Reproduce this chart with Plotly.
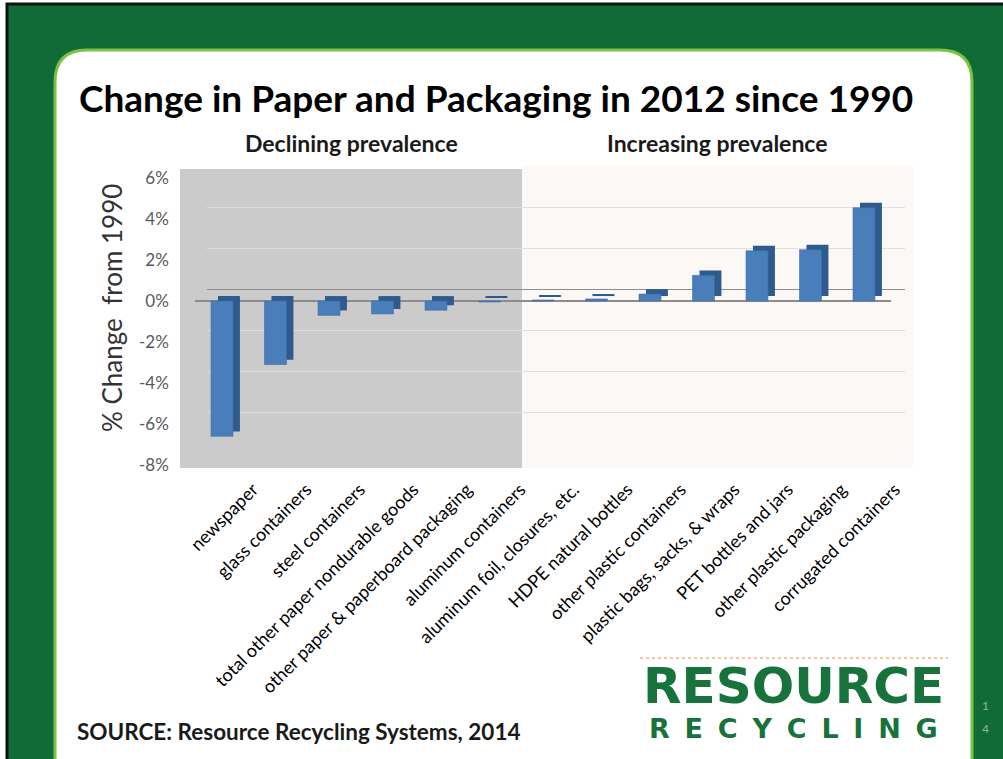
import plotly.graph_objects as go

# ---------------- data ----------------
categories = [
    "newspaper", "glass containers", "steel containers",
    "total other paper nondurable goods", "other paper & paperboard packaging",
    "aluminum containers", "aluminum foil, closures, etc.", "HDPE natural bottles",
    "other plastic containers", "plastic bags, sacks, & wraps", "PET bottles and jars",
    "other plastic packaging", "corrugated containers",
]
pct_change = [-6.6, -3.1, -0.7, -0.63, -0.45, -0.05, 0.05, 0.1, 0.34, 1.25, 2.45, 2.5, 4.55]
y_tick_values = [-8, -6, -4, -2, 0, 2, 4, 6]
y_tick_labels = ["-8%", "-6%", "-4%", "-2%", "0%", "2%", "4%", "6%"]

W, H = 1003, 759
def px(x):
    return x / W
def py(y):
    return 1 - y / H

FONT = "Lato"
n = len(categories)
idx = list(range(n))

# pseudo-3D depth (style constants)
depth_x = 0.13   # category units
depth_y = 0.24   # value units
bar_w = 0.41

fig = go.Figure()

# subplot xy: back wall gridlines (drawn first)
fig.add_trace(go.Scatter(x=idx, y=pct_change, mode="markers", marker=dict(opacity=0),
                         hoverinfo="skip", showlegend=False, xaxis="x", yaxis="y"))
# subplot x2y3: category labels (shifted like the 3D floor)
fig.add_trace(go.Scatter(x=idx, y=pct_change, mode="markers", marker=dict(opacity=0),
                         hoverinfo="skip", showlegend=False, xaxis="x2", yaxis="y3"))
# subplot x3y2: the bars
fig.add_trace(go.Bar(
    x=idx, y=pct_change, base=[depth_y] * n,
    width=bar_w, offset=-bar_w / 2 + depth_x,
    marker=dict(color="#2F5A8E", line=dict(width=0)),
    hoverinfo="skip", showlegend=False, xaxis="x3", yaxis="y2",
))
fig.add_trace(go.Bar(
    x=idx, y=pct_change, base=[0] * n,
    width=bar_w, offset=-bar_w / 2,
    marker=dict(color="#4A7EBB", line=dict(color="#3D6DA6", width=0.6)),
    hoverinfo="skip", showlegend=False, xaxis="x3", yaxis="y2",
))

label_shift = 31

shapes = []
# green slide background with black frame
shapes.append(dict(type="rect", xref="paper", yref="paper", x0=px(7), x1=px(1012), y0=py(4), y1=py(775),
                   fillcolor="#106B37", line=dict(color="#111111", width=3), layer="below"))
# white rounded panel
x0, x1, y0, y1, r = 55, 972, 50, 790, 32
path = (f"M {px(x0+r)},{py(y0)} L {px(x1-r)},{py(y0)} Q {px(x1)},{py(y0)} {px(x1)},{py(y0+r)} "
        f"L {px(x1)},{py(y1)} L {px(x0)},{py(y1)} L {px(x0)},{py(y0+r)} Q {px(x0)},{py(y0)} {px(x0+r)},{py(y0)} Z")
shapes.append(dict(type="path", xref="paper", yref="paper", path=path,
                   fillcolor="#FFFFFF", line=dict(color="#7CC242", width=3), layer="below"))
# shaded regions
shapes.append(dict(type="rect", xref="paper", yref="paper", x0=px(180), x1=px(522), y0=py(468), y1=py(169),
                   fillcolor="#CBCBCB", line=dict(width=0), layer="below"))
shapes.append(dict(type="rect", xref="paper", yref="paper", x0=px(522), x1=px(913), y0=py(468), y1=py(166),
                   fillcolor="#FCF8F5", line=dict(width=0), layer="below"))
# dotted orange line above logo
shapes.append(dict(type="line", xref="paper", yref="paper", x0=px(640), x1=px(948), y0=py(658), y1=py(658),
                   line=dict(color="#F6B27A", width=1.5, dash="dot"), layer="above"))

NB = "\u00a0"
recycling = (NB + "\u2009").join(list("RECYCLING"))

annotations = [
    dict(text="<b>Change in Paper and Packaging in 2012 since 1990</b>", x=px(77), y=py(97),
         xanchor="left", yanchor="middle", font=dict(family=FONT, size=37, color="#000000")),
    dict(text="<b>Declining prevalence</b>", x=px(351), y=py(143), xanchor="center", yanchor="middle",
         font=dict(family=FONT, size=23, color="#1A1A1A")),
    dict(text="<b>Increasing prevalence</b>", x=px(717), y=py(143), xanchor="center", yanchor="middle",
         font=dict(family=FONT, size=23, color="#1A1A1A")),
    dict(text="% Change  from 1990", x=px(112), y=py(308), textangle=-90, xanchor="center", yanchor="middle",
         font=dict(family=FONT, size=26, color="#333333")),
    dict(text="<b>SOURCE: Resource Recycling Systems, 2014</b>", x=px(75), y=py(731),
         xanchor="left", yanchor="middle", font=dict(family=FONT, size=22.5, color="#1A1A1A")),
    dict(text="<b>RESOURCE</b>", x=px(793), y=py(686), xanchor="center", yanchor="middle",
         font=dict(family="DejaVu Sans", size=50, color="#17733B")),
    dict(text="<b>" + recycling + "</b>", x=px(793), y=py(728), xanchor="center", yanchor="middle",
         font=dict(family="DejaVu Sans", size=27, color="#17733B")),
    dict(text="1", x=px(985), y=py(705), xanchor="center", yanchor="middle",
         font=dict(family=FONT, size=12, color="#8FB89A")),
    dict(text="4", x=px(985), y=py(728), xanchor="center", yanchor="middle",
         font=dict(family=FONT, size=12, color="#8FB89A")),
]
for a in annotations:
    a.update(xref="paper", yref="paper", showarrow=False)

hidden = dict(showticklabels=False, showgrid=False, zeroline=False, showline=False, ticks="",
              automargin=False)

fig.update_layout(
    width=W, height=H,
    margin=dict(l=0, r=0, t=0, b=0, pad=0, autoexpand=False),
    paper_bgcolor="#FFFFFF",
    plot_bgcolor="rgba(0,0,0,0)",
    showlegend=False,
    barmode="overlay",
    shapes=shapes,
    annotations=annotations,
    # back wall grid
    xaxis=dict(domain=[px(207), px(905)], range=[-0.5, n - 0.5], anchor="y", **hidden),
    yaxis=dict(domain=[py(453), py(166)], range=[-8, 6], anchor="x", automargin=False,
               tickmode="array", tickvals=y_tick_values, showticklabels=False, ticks="",
               showgrid=True, gridcolor="#DEDEDE", gridwidth=1,
               zeroline=True, zerolinecolor="#8C8C8C", zerolinewidth=1.2, showline=False),
    # category labels
    xaxis2=dict(domain=[px(195.25 + label_shift), px(890.75 + label_shift)], range=[-0.5, n - 0.5],
                anchor="y3", side="bottom", automargin=False,
                tickmode="array", tickvals=idx, ticktext=categories, tickangle=-45,
                tickfont=dict(family=FONT, size=18, color="#000000"),
                ticks="outside", ticklen=6, tickcolor="rgba(0,0,0,0)",
                showgrid=False, zeroline=False, showline=False),
    yaxis3=dict(domain=[py(465), py(178)], range=[-8, 6], anchor="x2", **hidden),
    # bars + value axis
    xaxis3=dict(domain=[px(195.25), px(890.75)], range=[-0.5, n - 0.5], anchor="y2", **hidden),
    yaxis2=dict(domain=[py(465), py(178)], range=[-8, 6], anchor="x3", automargin=False,
                tickmode="array", tickvals=y_tick_values, ticktext=y_tick_labels,
                tickfont=dict(family=FONT, size=17, color="#595959"),
                ticks="outside", ticklen=22, tickcolor="rgba(0,0,0,0)",
                showgrid=False, zeroline=True, zerolinecolor="#8C8C8C", zerolinewidth=1.5,
                showline=False),
)

fig.write_html("out.html")
